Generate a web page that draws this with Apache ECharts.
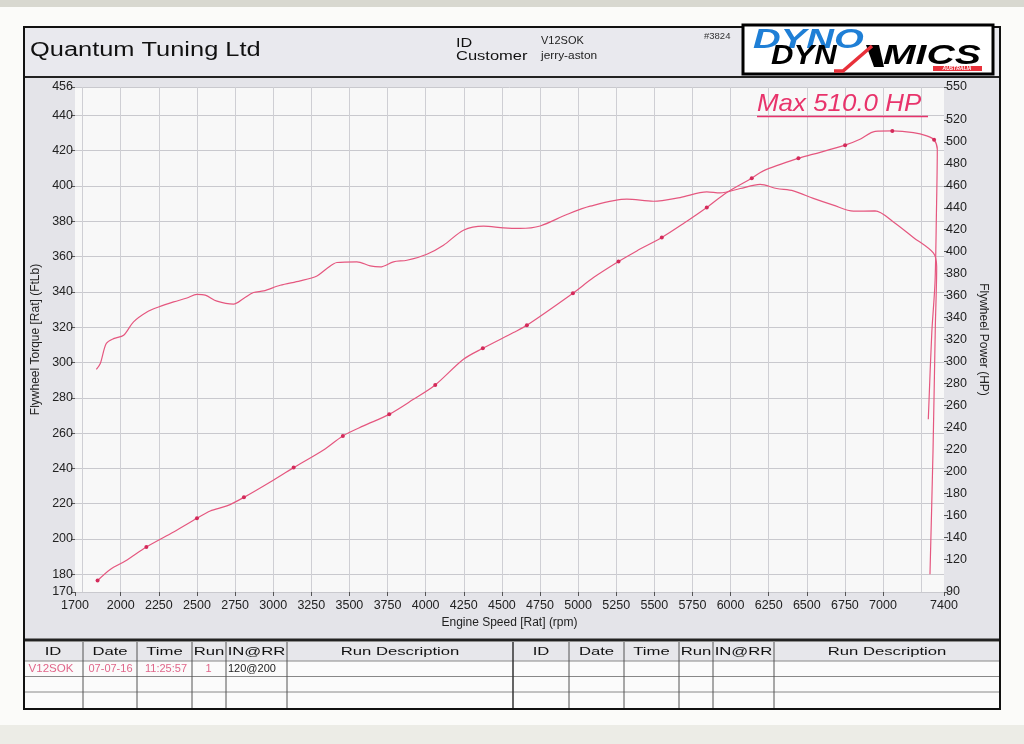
<!DOCTYPE html>
<html><head><meta charset="utf-8">
<script src="https://cdn.jsdelivr.net/npm/echarts@6/dist/echarts.min.js"></script>
<style>html,body{margin:0;padding:0;background:#fbfbf9;}#c{width:1024px;height:744px;}</style>
</head><body><div id="c"></div>
<script>
// ---- data read from the dyno sheet ----
const torqueRpm = [1840,1866,1905,1953,2019,2084,2172,2248,2347,2434,2500,2554,2631,2740,2806,2871,2937,3046,3177,3287,3352,3418,3549,3636,3702,3789,3877,4008,4117,4248,4380,4511,4620,4751,4926,5079,5320,5494,5669,5844,5931,6063,6194,6303,6412,6543,6674,6806,6948,7068,7199,7330,7352,7343,7328,7308];
const torqueFtLb = [296.1,299.4,310.7,313.5,315.4,323.0,328.6,331.4,334.3,336.5,338.5,338.1,334.7,333.0,336.2,339.6,340.5,343.7,346.2,349.0,353.2,356.6,357.0,354.7,354.1,357.0,357.9,361.3,366.4,374.9,377.2,376.2,375.9,377.3,383.8,388.5,392.5,391.3,393.4,396.6,396.0,398.5,400.8,398.5,397.2,392.9,389.1,385.7,385.8,379.6,370.8,362.0,354.0,320.0,250.0,180.0];
const powerRpm = [1848,1931,2030,2168,2347,2500,2587,2696,2808,2981,3134,3330,3457,3592,3761,3920,4063,4248,4375,4576,4664,4966,5101,5265,5385,5549,5691,5844,5975,6139,6215,6445,6543,6751,6849,6948,7061,7199,7287,7335,7356,7350,7341,7320,7297];
const powerHp = [100.5,110.6,118.3,131.0,144.7,157.1,163.8,168.4,176.2,190.2,203.3,219.4,232.2,241.3,251.8,265.5,278.6,302.0,312.0,326.3,332.9,362.1,376.4,391.0,400.7,412.9,425.6,440.2,453.9,466.9,473.6,485.1,488.8,497.0,502.4,509.6,510.0,508.5,505.5,501.9,493.3,432.6,371.9,326.3,247.3];
const powerMarkRpm = [1848,2168,2500,2808,3134,3457,3761,4063,4375,4664,4966,5265,5549,5844,6139,6445,6751,7061,7335];
const xTickLabels = [1700,2000,2250,2500,2750,3000,3250,3500,3750,4000,4250,4500,4750,5000,5250,5500,5750,6000,6250,6500,6750,7000,7400];
const xGridValues = [1750,2000,2250,2500,2750,3000,3250,3500,3750,4000,4250,4500,4750,5000,5250,5500,5750,6000,6250,6500,6750,7000,7250];
const leftTickLabels = [170,180,200,220,240,260,280,300,320,340,360,380,400,420,440,456];
const rightTickLabels = [90,120,140,160,180,200,220,240,260,280,300,320,340,360,380,400,420,440,460,480,500,520,550];
const maxPowerLabel = 'Max 510.0 HP';
const tableHeaders = ['ID','Date','Time','Run','IN@RR','Run Description'];
const runRow = ['V12SOK','07-07-16','11:25:57','1','120@200'];

const FONT = "'Liberation Sans', Arial, sans-serif";
const chart = echarts.init(document.getElementById('c'), null, {renderer:'canvas'});

function txt(x, y, text, size, color, opts) {
  opts = opts || {};
  return {type:'text', x:x, y:y, z: opts.z || 50, scaleX: opts.sx || 1,
    style:{x:0, y:0, text:text, fill:color, fontSize:size, fontFamily: opts.family || FONT,
      fontStyle: opts.style || 'normal', fontWeight: opts.weight || 'normal',
      align: opts.align || 'left', verticalAlign:'middle'}};
}
function rect(x,y,w,h,fill,stroke,lw,z){return {type:'rect', z:z||-10, shape:{x:x,y:y,width:w,height:h}, style:{fill:fill||'none', stroke:stroke||'none', lineWidth:lw||0}};}
function line(x1,y1,x2,y2,color,lw,z){return {type:'line', z:z||-5, shape:{x1:x1,y1:y1,x2:x2,y2:y2}, style:{stroke:color, lineWidth:lw}};}

const g = [];
g.push(rect(0,0,1024,744,'#fbfbf9',null,0,-20));
g.push(rect(0,0,1024,7,'#d8d8d0',null,0,-19));
g.push(rect(0,725,1024,19,'#ecece6',null,0,-19));
g.push(rect(24,27,976,50,'#e9e9ee',null,0,-15));
g.push(rect(24,77,976,563,'#e4e4e9',null,0,-15));
g.push(rect(24,642,976,67,'#fbfbfb',null,0,-15));
g.push(rect(24,642,976,19,'#e7e7eb',null,0,-14));
g.push(line(24,77,1000,77,'#222',2,-4));
g.push(line(24,640,1000,640,'#222',3,-4));
[661,676.5,692].forEach(y=>g.push(line(24,y,1000,y,'#888',1,-4)));
const colL = [83,137,192,226,287];
const colR = [569,624,679,713,774];
colL.concat(colR).forEach(x=>g.push(line(x,642,x,708,'#555',1,-4)));
g.push(line(513,642,513,708,'#333',1.5,-4));
g.push(rect(24,27,976,682,null,'#111',2,-3));

// header texts
g.push(txt(30,50,'Quantum Tuning Ltd',20,'#111',{sx:1.27}));
g.push(txt(456,44,'ID',12.5,'#111',{sx:1.3}));
g.push(txt(456,57,'Customer',12.5,'#111',{sx:1.32}));
g.push(txt(541,41,'V12SOK',11,'#222'));
g.push(txt(541,56,'jerry-aston',11,'#222',{sx:1.08}));
g.push(txt(704,36,'#3824',9.5,'#333'));

// logo
g.push(rect(743,25,250,49,'#ffffff','#000',3,-2));
g.push(txt(753,41,'DYNO',27,'#1f7fd6',{sx:1.42,style:'italic',weight:'bold',z:20}));
g.push(txt(771,57,'DYN',27,'#000',{sx:1.15,style:'italic',weight:'900',z:21}));
g.push({type:'polygon', z:21, shape:{points:[[866,45],[879,45],[884,67],[874,67]]}, style:{fill:'#000'}});
g.push({type:'polyline', z:22, shape:{points:[[834,71],[843,71],[872,46]]}, style:{stroke:'#e8303a', lineWidth:3.5, fill:'none'}});
g.push(txt(883,57,'MICS',27,'#000',{sx:1.45,style:'italic',weight:'900',z:21}));
g.push(rect(933,66,49,5,'#e8303a',null,0,21));
g.push(txt(957,68.5,'AUSTRALIA',5,'#fff',{align:'center',style:'italic',weight:'bold',z:22}));

// max label
g.push(txt(757,104.5,maxPowerLabel,24,'#e8336b',{sx:1.08,style:'italic',z:60}));
g.push(line(757,116.5,928,116.5,'#e8336b',1.5,60));

// table
const centersL = [53,110,164.5,209,256.5,400];
const centersR = [541,596.5,651.5,696,743.5,887];
tableHeaders.forEach((h,i)=>{
  g.push(txt(centersL[i],651.5,h,11.5,'#111',{align:'center',sx:1.45}));
  g.push(txt(centersR[i],651.5,h,11.5,'#111',{align:'center',sx:1.45}));
});
g.push(txt(51,668.5,runRow[0],11,'#e0668a',{align:'center',sx:1.05}));
g.push(txt(110.5,668.5,runRow[1],11,'#e0668a',{align:'center'}));
g.push(txt(166,668.5,runRow[2],11,'#e0668a',{align:'center'}));
g.push(txt(208.5,668.5,runRow[3],11,'#e0668a',{align:'center'}));
g.push(txt(228,668.5,runRow[4],11,'#222'));

const plain = v => String(v);
const axisLabelStyle = {fontSize:12.5, color:'#222', fontFamily:FONT, formatter:plain};
const option = {
  animation:false,
  backgroundColor:'transparent',
  graphic: g,
  grid:{left:75, right:80, top:87, bottom:152, show:true, backgroundColor:'#f8f8f8', borderWidth:0},
  xAxis:[
    {type:'value', min:1700, max:7400, position:'bottom',
     axisLine:{show:false},
     axisTick:{show:true, customValues:xTickLabels, length:4, lineStyle:{color:'#555'}},
     axisLabel:Object.assign({customValues:xTickLabels, margin:7}, axisLabelStyle),
     splitLine:{show:false},
     name:'Engine Speed [Rat] (rpm)', nameLocation:'middle', nameGap:24,
     nameTextStyle:{fontSize:12, color:'#222', fontFamily:FONT}},
    {type:'value', min:1700, max:7400, position:'top',
     axisLine:{show:false}, axisTick:{show:false, customValues:xGridValues},
     axisLabel:{show:false, customValues:xGridValues},
     splitLine:{show:true, lineStyle:{color:'#cfcfd4', width:1}}}
  ],
  yAxis:[
    {type:'value', min:170, max:456, position:'left',
     axisLine:{show:false},
     axisTick:{show:true, customValues:leftTickLabels, length:4, lineStyle:{color:'#555'}},
     axisLabel:Object.assign({customValues:leftTickLabels, margin:2}, axisLabelStyle),
     splitLine:{show:true, lineStyle:{color:'#c9c9ce', width:1}},
     name:'Flywheel Torque [Rat] (FtLb)', nameLocation:'middle', nameGap:26, nameRotate:90,
     nameTextStyle:{fontSize:12, color:'#222', fontFamily:FONT}},
    {type:'value', min:90, max:550, position:'right',
     axisLine:{show:false},
     axisTick:{show:true, customValues:rightTickLabels, length:4, lineStyle:{color:'#555'}},
     axisLabel:Object.assign({customValues:rightTickLabels, margin:2}, axisLabelStyle),
     splitLine:{show:false},
     name:'Flywheel Power (HP)', nameLocation:'middle', nameGap:26, nameRotate:-90,
     nameTextStyle:{fontSize:12, color:'#222', fontFamily:FONT}}
  ],
  series:[
    {type:'line', name:'Torque', xAxisIndex:0, yAxisIndex:0, smooth:0.3,
     data: torqueRpm.map((r,i)=>[r, torqueFtLb[i]]),
     symbol:'none', showSymbol:false,
     lineStyle:{color:'#e5577f', width:1.2}, z:5},
    {type:'line', name:'Power', xAxisIndex:0, yAxisIndex:1, smooth:0.3,
     data: powerRpm.map((r,i)=>({value:[r, powerHp[i]], symbol: powerMarkRpm.indexOf(r)>=0 ? 'circle' : 'none'})),
     showSymbol:true, showAllSymbol:true, symbolSize:4,
     itemStyle:{color:'#d42a5a'},
     lineStyle:{color:'#e5577f', width:1.2}, z:6}
  ]
};
chart.setOption(option);
</script>
</body></html>
